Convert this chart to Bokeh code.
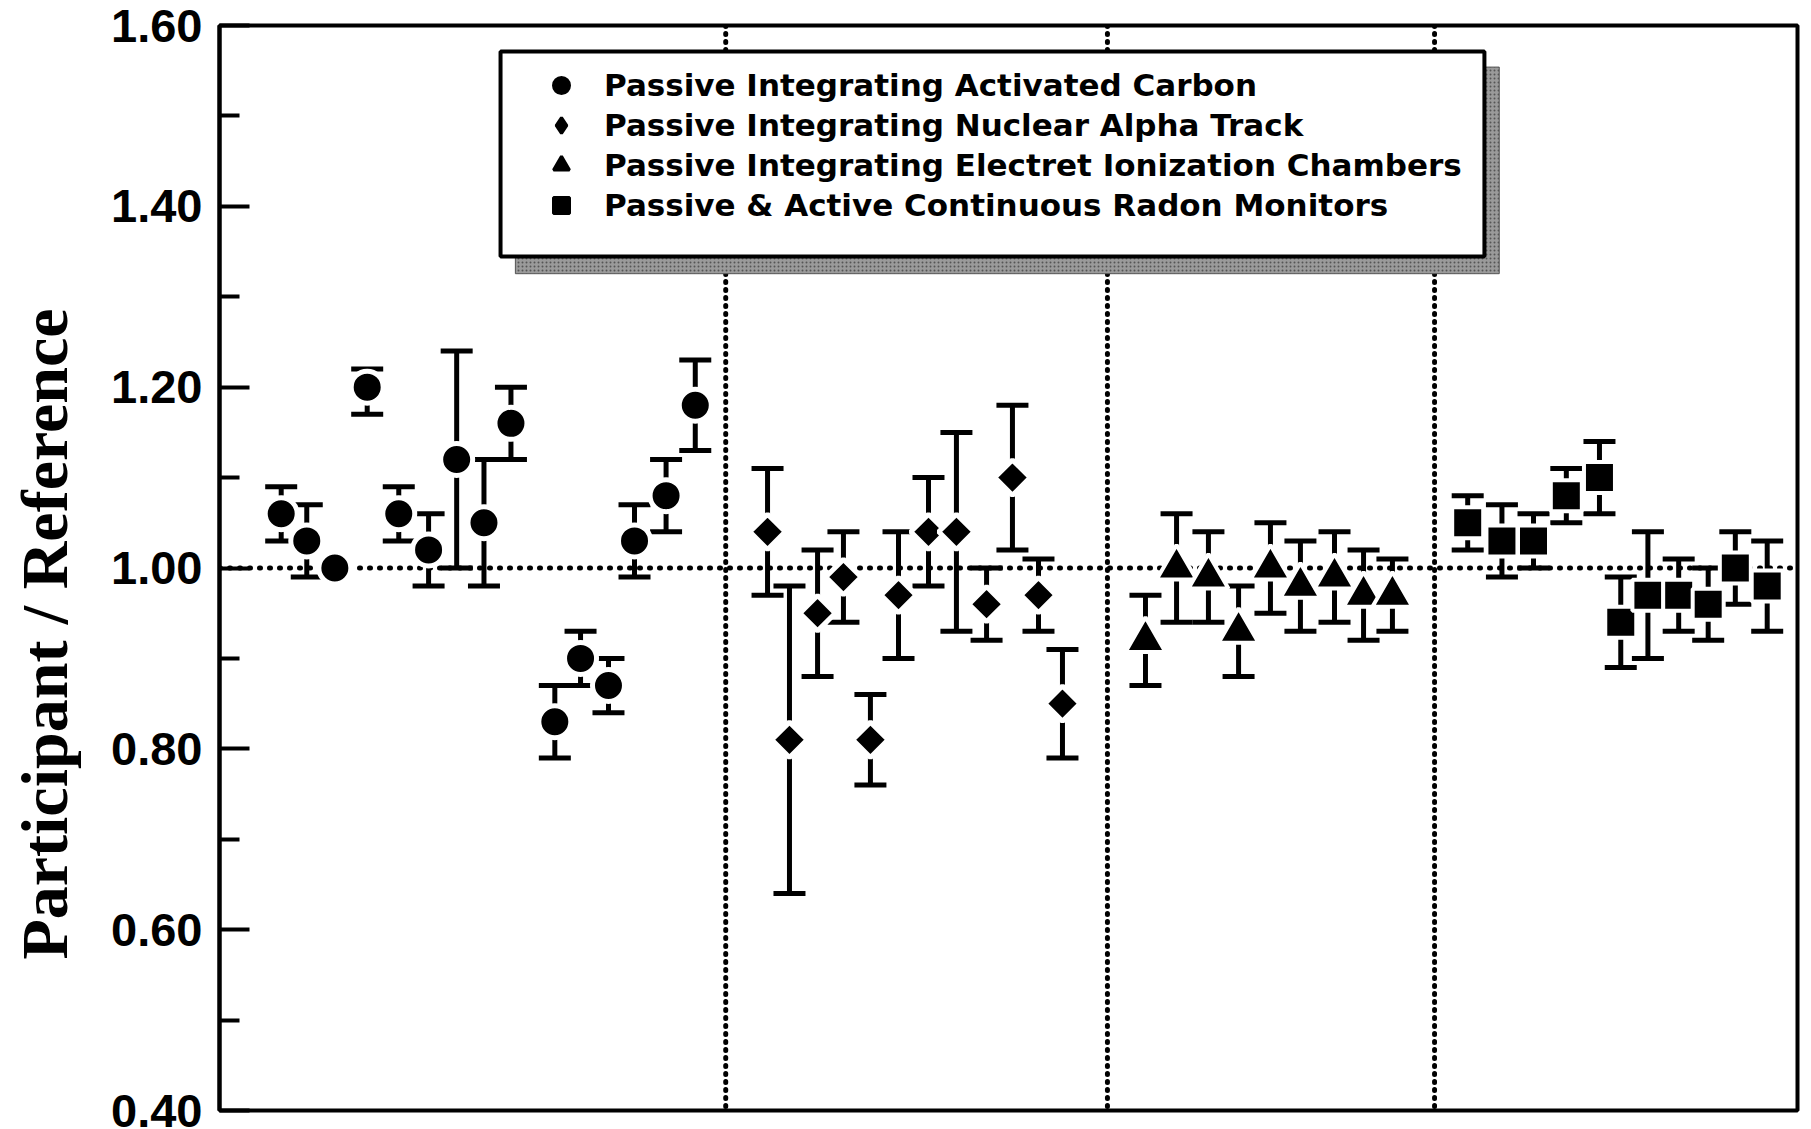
import math
from bokeh.plotting import figure
from bokeh.models import (ColumnDataSource, Whisker, TeeHead, Span, Range1d, FixedTicker,
                          NumeralTickFormatter, Legend, LegendItem, BoxAnnotation)
from bokeh.embed import file_html
from bokeh.resources import INLINE

# ---------------- data ----------------
carbon_x = [3.91, 5.53, 7.31, 9.36, 11.36, 13.25, 15.03, 16.76, 18.47, 21.25, 22.88, 24.65, 26.30, 28.30, 30.15]
carbon_y = [1.06, 1.03, 1.00, 1.20, 1.06, 1.02, 1.12, 1.05, 1.16, 0.83, 0.90, 0.87, 1.03, 1.08, 1.18]
carbon_hi = [1.09, 1.07, 1.00, 1.22, 1.09, 1.06, 1.24, 1.12, 1.20, 0.87, 0.93, 0.90, 1.07, 1.12, 1.23]
carbon_lo = [1.03, 0.99, 1.00, 1.17, 1.03, 0.98, 1.00, 0.98, 1.12, 0.79, 0.87, 0.84, 0.99, 1.04, 1.13]

alpha_x = [34.73, 36.12, 37.90, 39.54, 41.25, 43.03, 44.93, 46.70, 48.61, 50.25, 51.90, 53.42]
alpha_y = [1.04, 0.81, 0.95, 0.99, 0.81, 0.97, 1.04, 1.04, 0.96, 1.10, 0.97, 0.85]
alpha_hi = [1.11, 0.98, 1.02, 1.04, 0.86, 1.04, 1.10, 1.15, 1.00, 1.18, 1.01, 0.91]
alpha_lo = [0.97, 0.64, 0.88, 0.94, 0.76, 0.90, 0.98, 0.93, 0.92, 1.02, 0.93, 0.79]

electret_x = [58.68, 60.65, 62.67, 64.58, 66.60, 68.50, 70.66, 72.50, 74.33]
electret_y = [0.92, 1.00, 0.99, 0.93, 1.00, 0.98, 0.99, 0.97, 0.97]
electret_hi = [0.97, 1.06, 1.04, 0.98, 1.05, 1.03, 1.04, 1.02, 1.01]
electret_lo = [0.87, 0.94, 0.94, 0.88, 0.95, 0.93, 0.94, 0.92, 0.93]

crm_x = [79.10, 81.27, 83.27, 85.35, 87.45, 88.80, 90.52, 92.47, 94.34, 96.06, 98.08]
crm_y = [1.05, 1.03, 1.03, 1.08, 1.10, 0.94, 0.97, 0.97, 0.96, 1.00, 0.98]
crm_hi = [1.08, 1.07, 1.06, 1.11, 1.14, 0.99, 1.04, 1.01, 1.00, 1.04, 1.03]
crm_lo = [1.02, 0.99, 1.00, 1.05, 1.06, 0.89, 0.90, 0.93, 0.92, 0.96, 0.93]

series_labels = [
    "Passive Integrating Activated Carbon",
    "Passive Integrating Nuclear Alpha Track",
    "Passive Integrating Electret Ionization Chambers",
    "Passive & Active Continuous Radon Monitors",
]
group_dividers = [32.08, 56.27, 77.0]
reference_level = 1.0
y_ticks = [0.4, 0.6, 0.8, 1.0, 1.2, 1.4, 1.6]
y_minor = [0.5, 0.7, 0.9, 1.1, 1.3, 1.5]
y_axis_label = "Participant / Reference"

# ---------------- figure ----------------
p = figure(width=1808, height=1129, output_backend="svg", toolbar_location=None,
           x_range=Range1d(0, 100), y_range=Range1d(0.4, 1.6), x_axis_location=None,
           min_border_left=219, min_border_right=11, min_border_top=25, min_border_bottom=19)
p.background_fill_color = "white"
p.border_fill_color = "white"
p.outline_line_color = "black"
p.outline_line_width = 4
p.grid.visible = False

ax = p.yaxis[0]
ax.ticker = FixedTicker(ticks=y_ticks, minor_ticks=y_minor)
ax.formatter = NumeralTickFormatter(format="0.00")
ax.axis_line_width = 4
ax.axis_line_color = "black"
ax.major_tick_in = 30
ax.major_tick_out = 0
ax.minor_tick_in = 20
ax.minor_tick_out = 0
ax.major_tick_line_width = 4
ax.minor_tick_line_width = 4
ax.major_label_standoff = 17
ax.major_label_text_font = "Liberation Sans"
ax.major_label_text_font_style = "bold"
ax.major_label_text_font_size = "47px"
ax.major_label_text_color = "black"
# the title sits a little below the frame centre in the original: pad its upper end
ax.axis_label = y_axis_label + "\u00a0" * 8
ax.axis_label_text_font = "Liberation Serif"
ax.axis_label_text_font_style = "bold"
ax.axis_label_text_font_size = "66px"
ax.axis_label_text_color = "black"
ax.axis_label_standoff = 27

# reference lines
p.add_layout(Span(location=reference_level, dimension="width", line_color="black",
                  line_width=5, line_dash="1 9", line_cap="round", level="underlay"))
for d in group_dividers:
    p.add_layout(Span(location=d, dimension="height", line_color="black",
                      line_width=5, line_dash="1 7", line_cap="round", level="underlay"))

groups = [
    (carbon_x, carbon_y, carbon_hi, carbon_lo, dict(marker="circle", size=32, line_width=5)),
    (alpha_x, alpha_y, alpha_hi, alpha_lo, dict(marker="square", size=25, angle=math.pi / 4, line_width=5)),
    (electret_x, electret_y, electret_hi, electret_lo, dict(marker="triangle", size=40, line_width=4)),
    (crm_x, crm_y, crm_hi, crm_lo, dict(marker="square", size=31, line_width=4)),
]
legend_markers = ["circle", "diamond", "triangle", "square"]

legend_items = []
for (xs, ys, his, los, mk), lab, lm in zip(groups, series_labels, legend_markers):
    keep = [i for i in range(len(xs)) if his[i] > los[i]]
    wsrc = ColumnDataSource(dict(x=[xs[i] for i in keep], upper=[his[i] for i in keep],
                                 lower=[los[i] for i in keep]))
    w = Whisker(source=wsrc, base="x", upper="upper", lower="lower",
                line_color="black", line_width=5, level="underlay",
                upper_head=TeeHead(size=32, line_width=5, line_color="black"),
                lower_head=TeeHead(size=32, line_width=5, line_color="black"))
    p.add_layout(w)
    src = ColumnDataSource(dict(x=xs, y=ys))
    p.scatter("x", "y", source=src, fill_color="black", line_color="white", **mk)
    # legend swatch renderer: a single undefined point, so nothing is drawn in the plot
    proxy = p.scatter(x=[float("nan")], y=[float("nan")], marker=lm,
                      fill_color="black", line_color="black", line_width=3)
    legend_items.append(LegendItem(label=lab, renderers=[proxy]))

# legend box with shadow
p.add_layout(BoxAnnotation(left=18.75, right=81.10, top=1.5540, bottom=1.3255,
                           fill_color="#9a9a9a", fill_alpha=1.0, line_color="#555555", line_alpha=1.0,
                           line_width=1, hatch_pattern="dot", hatch_color="#444444",
                           hatch_scale=4, hatch_alpha=0.8))
p.add_layout(BoxAnnotation(left=17.81, right=80.16, top=1.5712, bottom=1.3445,
                           fill_color="white", fill_alpha=1.0, line_color="black", line_alpha=1.0,
                           line_width=4))

legend = Legend(items=legend_items, location=(322, 885), orientation="vertical",
                glyph_width=40, glyph_height=40, label_height=40, label_standoff=23,
                padding=0, margin=0, spacing=0,
                background_fill_alpha=0.0, border_line_alpha=0.0,
                label_text_font="DejaVu Sans", label_text_font_style="bold",
                label_text_font_size="31px", label_text_color="black",
                label_text_baseline="middle")
p.add_layout(legend)

open("out.html", "w").write(file_html(p, INLINE))
